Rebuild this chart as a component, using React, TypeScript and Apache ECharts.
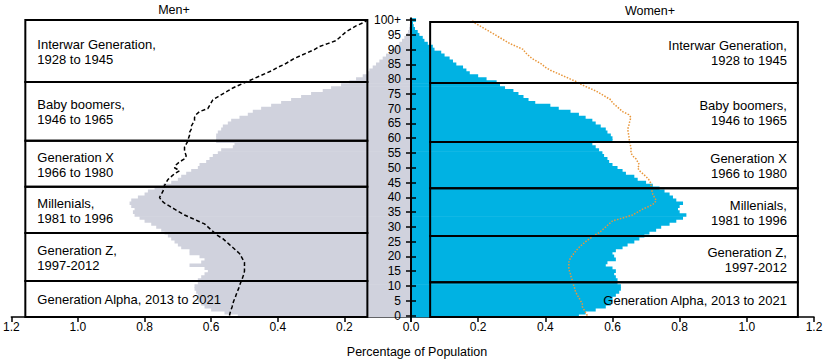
import React, { useEffect, useRef } from 'react';
import * as echarts from 'echarts';

const FONT = '"Liberation Sans", Arial, Helvetica, sans-serif';

// Age categories, bottom (0) to top (100+)
const ageLabels: string[] = Array.from({ length: 101 }, (_, i) => (i === 100 ? '100+' : String(i)));

// Percentage of population by single year of age (current), men
const menShare = [
  0.52, 0.56, 0.60, 0.62, 0.63, 0.64, 0.64, 0.64, 0.645, 0.65,
  0.65, 0.64, 0.64, 0.63, 0.62, 0.61, 0.62, 0.665, 0.63, 0.62,
  0.635, 0.665, 0.665, 0.69, 0.70, 0.71, 0.72, 0.73, 0.74, 0.75,
  0.765, 0.78, 0.80, 0.815, 0.83, 0.835, 0.83, 0.84, 0.845, 0.84,
  0.82, 0.80, 0.79, 0.77, 0.745, 0.72, 0.70, 0.69, 0.675, 0.66,
  0.64, 0.635, 0.615, 0.605, 0.595, 0.58, 0.57, 0.535, 0.53, 0.585,
  0.585, 0.585, 0.58, 0.57, 0.565, 0.55, 0.54, 0.515, 0.49, 0.475,
  0.45, 0.42, 0.39, 0.36, 0.33, 0.30, 0.265, 0.24, 0.21, 0.185,
  0.165, 0.145, 0.13, 0.125, 0.115, 0.105, 0.095, 0.085, 0.075, 0.065,
  0.055, 0.045, 0.035, 0.027, 0.02, 0.013, 0.009, 0.006, 0.004, 0.002,
  0.003,
];

// Percentage of population by single year of age (current), women
const womenShare = [
  0.50, 0.52, 0.55, 0.58, 0.595, 0.60, 0.60, 0.61, 0.62, 0.625,
  0.625, 0.615, 0.615, 0.61, 0.605, 0.61, 0.60, 0.58, 0.585, 0.61,
  0.605, 0.60, 0.61, 0.63, 0.645, 0.665, 0.68, 0.695, 0.71, 0.73,
  0.745, 0.77, 0.79, 0.81, 0.82, 0.80, 0.795, 0.80, 0.81, 0.79,
  0.78, 0.77, 0.755, 0.74, 0.72, 0.70, 0.675, 0.665, 0.64, 0.63,
  0.615, 0.60, 0.59, 0.585, 0.575, 0.57, 0.56, 0.55, 0.54, 0.60,
  0.60, 0.595, 0.585, 0.58, 0.565, 0.55, 0.54, 0.52, 0.50, 0.475,
  0.44, 0.415, 0.37, 0.35, 0.335, 0.32, 0.305, 0.28, 0.265, 0.255,
  0.225, 0.20, 0.175, 0.165, 0.155, 0.135, 0.125, 0.115, 0.10, 0.09,
  0.07, 0.065, 0.05, 0.04, 0.035, 0.025, 0.02, 0.012, 0.008, 0.006,
  0.015,
];

// Comparison profile (dashed line), men
const menReference = [
  0.545, 0.543, 0.54, 0.537, 0.535, 0.532, 0.528, 0.525, 0.522, 0.518,
  0.515, 0.512, 0.508, 0.505, 0.502, 0.50, 0.50, 0.50, 0.50, 0.505,
  0.51, 0.515, 0.525, 0.535, 0.545, 0.555, 0.565, 0.58, 0.59, 0.60,
  0.61, 0.62, 0.64, 0.66, 0.68, 0.695, 0.71, 0.725, 0.74, 0.75,
  0.755, 0.75, 0.745, 0.742, 0.74, 0.735, 0.73, 0.72, 0.71, 0.695,
  0.71, 0.705, 0.695, 0.68, 0.675, 0.678, 0.68, 0.68, 0.675, 0.67,
  0.668, 0.665, 0.665, 0.66, 0.66, 0.655, 0.65, 0.65, 0.645, 0.635,
  0.61, 0.605, 0.60, 0.595, 0.58, 0.565, 0.55, 0.535, 0.515, 0.495,
  0.475, 0.455, 0.435, 0.415, 0.40, 0.38, 0.365, 0.35, 0.33, 0.31,
  0.29, 0.275, 0.25, 0.225, 0.215, 0.205, 0.195, 0.18, 0.165, 0.145,
  0.13,
];

// Comparison profile (dotted line), women
const womenReference = [
  0.525, 0.52, 0.515, 0.51, 0.51, 0.505, 0.50, 0.495, 0.49, 0.488,
  0.485, 0.482, 0.48, 0.477, 0.475, 0.472, 0.47, 0.47, 0.47, 0.473,
  0.478, 0.485, 0.492, 0.50, 0.51, 0.52, 0.532, 0.545, 0.56, 0.57,
  0.58, 0.59, 0.60, 0.63, 0.66, 0.675, 0.69, 0.71, 0.725, 0.73,
  0.725, 0.72, 0.718, 0.715, 0.715, 0.713, 0.708, 0.70, 0.69, 0.68,
  0.675, 0.68, 0.675, 0.67, 0.66, 0.655, 0.655, 0.655, 0.652, 0.65,
  0.65, 0.648, 0.647, 0.645, 0.648, 0.65, 0.652, 0.655, 0.648, 0.63,
  0.62, 0.61, 0.60, 0.595, 0.58, 0.565, 0.55, 0.53, 0.51, 0.495,
  0.475, 0.455, 0.435, 0.415, 0.40, 0.39, 0.375, 0.36, 0.35, 0.34,
  0.335, 0.315, 0.295, 0.28, 0.265, 0.25, 0.235, 0.22, 0.205, 0.19,
  0.18,
];

// Generation boxes, bottom to top
const generationLabels = [
  'Generation Alpha, 2013 to 2021',
  'Generation Z,\n1997-2012',
  'Millenials,\n1981 to 1996',
  'Generation X\n1966 to 1980',
  'Baby boomers,\n1946 to 1965',
  'Interwar Generation,\n1928 to 1945',
];
// Age spans covered by each box (in age units)
const menBoxAges = [[0, 12.2], [12.2, 28.4], [28.4, 44.1], [44.1, 59.6], [59.6, 79.5], [79.5, 100.5]];
const womenBoxAges = [[0, 11.8], [11.8, 27.4], [27.4, 43.6], [43.6, 59.2], [59.2, 79.2], [79.2, 99.8]];
const menBoxSpan = [1.158, 0.131];
const womenBoxSpan = [0.057, 1.152];

const AXIS_MAX = 1.2;
const AXIS_STEP = 0.2;

function barSeries(name: string, gridIdx: number, values: number[], color: string) {
  return {
    type: 'custom',
    name,
    xAxisIndex: gridIdx,
    yAxisIndex: gridIdx,
    z: 2,
    silent: true,
    encode: { x: 0, y: 1 },
    data: values.map((v, i) => [v, i]),
    renderItem: (params: any, api: any) => {
      const i = params.dataIndex;
      const band = api.size([0, 1])[1];
      const p0 = api.coord([0, i]);
      const p1 = api.coord([values[i], i]);
      return {
        type: 'rect',
        shape: {
          x: Math.min(p0[0], p1[0]),
          y: p0[1] - band / 2 - 0.35,
          width: Math.abs(p1[0] - p0[0]),
          height: band + 0.7,
        },
        style: { fill: color },
      };
    },
  };
}

function boxSeries(gridIdx: number, ages: number[][], span: number[], side: 'left' | 'right') {
  return {
    type: 'custom',
    xAxisIndex: gridIdx,
    yAxisIndex: gridIdx,
    z: 4,
    silent: true,
    data: ages.map((_, i) => [span[0], i]),
    renderItem: (params: any, api: any) => {
      const [lo, hi] = ages[params.dataIndex];
      const band = api.size([0, 1])[1];
      const base = api.coord([span[0], 0]);
      const yBottom = base[1] + band / 2 - lo * band;
      const yTop = base[1] + band / 2 - hi * band;
      const xa = api.coord([span[0], 0])[0];
      const xb = api.coord([span[1], 0])[0];
      const left = Math.min(xa, xb);
      const right = Math.max(xa, xb);
      return {
        type: 'group',
        children: [
          {
            type: 'rect',
            shape: { x: left, y: yTop, width: right - left, height: yBottom - yTop },
            style: { fill: 'none', stroke: '#000', lineWidth: 2 },
          },
          {
            type: 'text',
            x: side === 'left' ? left + 12 : right - 11,
            y: (yTop + yBottom) / 2 + 1,
            style: {
              text: generationLabels[params.dataIndex],
              align: side,
              verticalAlign: 'middle',
              fill: '#000',
              font: `13px ${FONT}`,
              lineHeight: 15,
            },
          },
        ],
      };
    },
  };
}

export default function App() {
  const ref = useRef<HTMLDivElement>(null);

  useEffect(() => {
    if (!ref.current) return;
    const chart = echarts.init(ref.current, undefined, { renderer: 'svg' });

    const xAxisBase = (gridIndex: number, inverse: boolean, hideZero: boolean) => ({
      gridIndex,
      type: 'value',
      min: 0,
      max: AXIS_MAX,
      interval: AXIS_STEP,
      inverse,
      axisLine: { show: true, lineStyle: { color: '#000', width: 1.5 } },
      axisTick: { show: true, length: 5, lineStyle: { color: '#000', width: 1.5 } },
      splitLine: { show: false },
      axisLabel: {
        color: '#000',
        fontSize: 12,
        fontFamily: FONT,
        margin: 4,
        formatter: (v: number) => (hideZero && v === 0 ? '' : v.toFixed(1)),
      },
    });

    const yAxisBase = (gridIndex: number, position: string, showLabels: boolean) => ({
      gridIndex,
      type: 'category',
      data: ageLabels,
      position,
      z: 6,
      axisLine: { show: true, onZero: false, lineStyle: { color: '#000', width: 2 } },
      axisTick: { show: true, alignWithLabel: true, interval: 4, length: 5, lineStyle: { color: '#000', width: 1.5 } },
      axisLabel: {
        show: showLabels,
        interval: 4,
        margin: 10,
        color: '#000',
        fontSize: 12,
        fontFamily: FONT,
      },
      splitLine: { show: false },
    });

    chart.setOption({
      animation: false,
      grid: [
        { left: 9, top: 18.5, width: 402, height: 298.5 },
        { left: 411, top: 18.5, width: 403, height: 298.5 },
      ],
      xAxis: [xAxisBase(0, true, false), xAxisBase(1, false, true)],
      yAxis: [yAxisBase(0, 'right', false), yAxisBase(1, 'left', true)],
      graphic: [
        { type: 'text', x: 174, y: 10, style: { text: 'Men+', align: 'center', verticalAlign: 'middle', font: `12.5px ${FONT}`, fill: '#000' } },
        { type: 'text', x: 650, y: 11, style: { text: 'Women+', align: 'center', verticalAlign: 'middle', font: `12.5px ${FONT}`, fill: '#000' } },
        { type: 'text', x: 417, y: 352, style: { text: 'Percentage of Population', align: 'center', verticalAlign: 'middle', font: `12.5px ${FONT}`, fill: '#000' } },
      ],
      series: [
        barSeries('Men', 0, menShare, '#d0d2dd'),
        barSeries('Women', 1, womenShare, '#00b2e3'),
        {
          type: 'line',
          name: 'Men reference',
          xAxisIndex: 0,
          yAxisIndex: 0,
          data: menReference,
          symbol: 'none',
          z: 3,
          lineStyle: { color: '#000', width: 1.5, type: [4, 2.5] },
        },
        {
          type: 'line',
          name: 'Women reference',
          xAxisIndex: 1,
          yAxisIndex: 1,
          data: womenReference,
          symbol: 'none',
          z: 3,
          lineStyle: { color: '#e8963a', width: 1.5, type: [1.5, 1.5] },
        },
        boxSeries(0, menBoxAges, menBoxSpan, 'left'),
        boxSeries(1, womenBoxAges, womenBoxSpan, 'right'),
      ],
    } as any);

    return () => chart.dispose();
  }, []);

  return <div ref={ref} style={{ position: 'absolute', left: 0, top: 0, width: 839, height: 363 }} />;
}
